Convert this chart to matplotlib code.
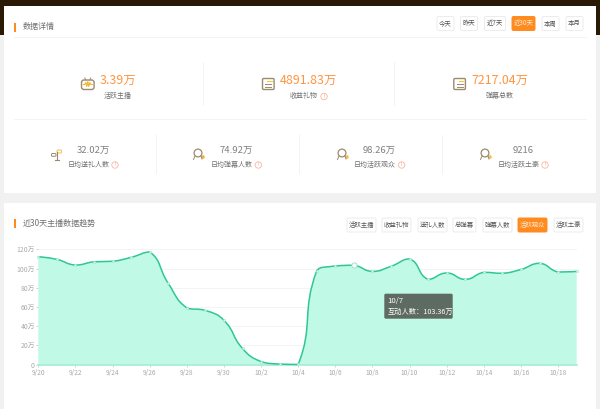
import matplotlib
matplotlib.use("Agg")
import matplotlib.pyplot as plt
import numpy as np
from matplotlib.patches import Rectangle, FancyBboxPatch, Circle, PathPatch
from matplotlib.path import Path

plt.rcParams['font.family'] = ['Noto Sans CJK SC', 'DejaVu Sans']

# chart data
dates = ["9/20", "9/21", "9/22", "9/23", "9/24", "9/25", "9/26", "9/27", "9/28", "9/29",
         "9/30", "10/1", "10/2", "10/3", "10/4", "10/5", "10/6", "10/7", "10/8", "10/9",
         "10/10", "10/11", "10/12", "10/13", "10/14", "10/15", "10/16", "10/17", "10/18", "10/19"]
values = [112.3, 109.5, 103.6, 107.0, 107.5, 111.6, 117.2, 84.5, 59.0, 56.3,
          46.0, 16.7, 3.0, 0.4, 0.1, 97.7, 102.6, 103.36, 97.0, 102.3,
          110.0, 88.7, 95.3, 88.7, 96.0, 95.0, 99.0, 105.4, 96.3, 97.0]
y_ticks = [0, 20, 40, 60, 80, 100, 120]
y_labels = ["0", "20万", "40万", "60万", "80万", "100万", "120万"]

range_buttons = ["今天", "昨天", "近7天", "近30天", "本周", "本月"]
metric_buttons = ["活跃主播", "收益礼物", "送礼人数", "总弹幕", "弹幕人数", "活跃观众", "活跃土豪"]
top_values = ["3.39万", "4891.83万", "7217.04万"]
top_labels = ["活跃主播", "收益礼物", "弹幕总数"]
low_values = ["32.02万", "74.92万", "98.26万", "9216"]
low_labels = ["日均送礼人数", "日均弹幕人数", "日均活跃观众", "日均活跃土豪"]

ORANGE = "#ff8b1f"
VALUE = "#ff9542"
GREEN = "#2fc796"
FILL = "#c0f9e6"
GREY = "#707070"
ICON = "#9a8a70"

fig = plt.figure(figsize=(6, 4.09), dpi=100, facecolor="#f1f1f1")

# page layer in pixel coordinates
bg = fig.add_axes([0, 0, 1, 1])
bg.set_xlim(0, 600)
bg.set_ylim(409, 0)
bg.axis('off')

bg.add_patch(Rectangle((0, 0), 600, 6, color="#2a1905", lw=0))
bg.add_patch(Rectangle((0, 0), 4, 35, color="#2a1905", lw=0))
bg.add_patch(Rectangle((596, 0), 4, 35, color="#2a1905", lw=0))
bg.add_patch(Rectangle((4, 6), 592, 187, color="white", lw=0))
bg.add_patch(Rectangle((4, 203), 592, 206, color="white", lw=0))


def button(x, y, w, h, label, active=False):
    bg.add_patch(FancyBboxPatch((x + 1, y + 1), w - 2, h - 2, boxstyle="round,pad=0,rounding_size=1.5",
                                fc=ORANGE if active else "white", ec=ORANGE if active else "#ececec", lw=0.7))
    bg.text(x + w / 2, y + h / 2, label, ha="center", va="center", fontsize=4.6,
            color="#ffe9d4" if active else "#555555")


def header(y, label):
    bg.add_patch(Rectangle((13.7, y - 4.5), 2, 9, color=ORANGE, lw=0))
    bg.text(23, y, label, ha="left", va="center", fontsize=5.8, color="#707070")


def hint(x, y):
    bg.add_patch(Circle((x, y), 3.2, fc="white", ec="#f9b5a0", lw=0.6))
    bg.text(x, y, "!", ha="center", va="center", fontsize=3.8, color="#f08a6c")


def doc_icon(x, y):
    bg.add_patch(FancyBboxPatch((x - 5.8, y - 5.5), 11.6, 11, boxstyle="round,pad=0,rounding_size=1.2",
                                fc="white", ec=ICON, lw=1))
    bg.plot([x - 1, x + 3.5], [y - 2.8, y - 2.8], color="#f5c242", lw=0.8)
    bg.plot([x - 3, x + 3], [y, y], color=ICON, lw=0.7)
    bg.plot([x - 3, x + 3], [y + 2.6, y + 2.6], color=ICON, lw=0.7)


def live_icon(x, y):
    bg.add_patch(FancyBboxPatch((x - 6.3, y - 4), 12.6, 9.5, boxstyle="round,pad=0,rounding_size=2.5",
                                fc="white", ec=ICON, lw=1))
    bg.plot([x - 4.5, x - 3, x - 2, x - 1, x, x + 1, x + 2, x + 3, x + 4.5],
            [y + 0.5, y + 0.5, y - 1.5, y + 2.5, y - 2.5, y + 2.5, y - 1.5, y + 0.5, y + 0.5], color="#f0b52e", lw=0.8)
    bg.plot([x - 3, x - 2], [y - 6, y - 4], color=ICON, lw=0.7)
    bg.plot([x + 3, x + 2], [y - 6, y - 4], color=ICON, lw=0.7)


def plant_icon(x, y):
    bg.plot([x, x], [y - 3, y + 5], color=ICON, lw=0.8)
    bg.plot([x - 2, x + 2], [y + 5.3, y + 5.3], color=ICON, lw=0.8)
    bg.add_patch(FancyBboxPatch((x - 5, y - 1.5), 4.5, 2.8, boxstyle="round,pad=0,rounding_size=1", fc="white", ec=ICON, lw=0.7))
    bg.add_patch(FancyBboxPatch((x + 0.5, y - 5), 4.5, 3, boxstyle="round,pad=0,rounding_size=1", fc="white", ec="#f5c242", lw=0.7))


def badge_icon(x, y, dot="#f5c242"):
    bg.add_patch(Circle((x, y - 1), 3.9, fc="white", ec=ICON, lw=0.9))
    bg.plot([x - 3, x - 4.5], [y + 2, y + 5.5], color=ICON, lw=0.7)
    bg.plot([x + 3, x + 4], [y + 2, y + 5], color=ICON, lw=0.7)
    bg.add_patch(Circle((x + 5, y + 3), 1.8, fc=dot, ec="none"))


# top card
header(27, "数据详情")
bg.plot([13.5, 586], [37.4, 37.4], color="#f4f4f4", lw=0.7)
range_x = [436, 459.5, 483.5, 511, 541, 565]
range_w = [19, 19, 23, 25, 19, 19]
for x, w, name in zip(range_x, range_w, range_buttons):
    button(x, 15.5, w, 16, name, active=name == "近30天")

top_value_x = [118, 308.7, 500]
top_label_x = [118, 304, 500]
for i in range(3):
    bg.text(top_value_x[i], 80, top_values[i], ha="center", va="center", fontsize=8.9, color=VALUE)
    bg.text(top_label_x[i], 96.3, top_labels[i], ha="center", va="center", fontsize=5.0, color=GREY)
live_icon(87.8, 84)
doc_icon(268.3, 84)
doc_icon(459.6, 84)
hint(324, 96.5)
bg.plot([203.4, 203.4], [62, 105], color="#f3f3f3", lw=0.7)
bg.plot([394.4, 394.4], [62, 105], color="#f3f3f3", lw=0.7)
bg.plot([13.5, 586], [119.4, 119.4], color="#f4f4f4", lw=0.7)

low_value_x = [93.3, 236, 379.5, 523]
low_label_x = [88.8, 232, 375, 518.5]
low_hint_x = [115, 258.3, 401.7, 545]
for i in range(4):
    bg.text(low_value_x[i], 150.7, low_values[i], ha="center", va="center", fontsize=6.8, color="#808080")
    bg.text(low_label_x[i], 165, low_labels[i], ha="center", va="center", fontsize=5.0, color=GREY)
    hint(low_hint_x[i], 165)
plant_icon(56.5, 155)
badge_icon(198, 154, dot="#f5b62e")
badge_icon(342, 154)
badge_icon(485, 154)
for x in [156.4, 299.4, 442.4]:
    bg.plot([x, x], [135, 173], color="#f3f3f3", lw=0.7)

# bottom card
header(223.5, "近30天主播数据趋势")
metric_x = [346, 381, 417, 452, 482, 517, 553]
metric_w = [31, 31, 31, 25, 31, 31, 31]
for x, w, name in zip(metric_x, metric_w, metric_buttons):
    button(x, 217, w, 16, name, active=name == "活跃观众")

# chart axes, placed so the ticks line up with the card pixels
x0, x1 = 38.3, 576.7
y0, y1 = 364.5, 249.3
ax = fig.add_axes([x0 / 600, 1 - y0 / 409, (x1 - x0) / 600, (y0 - y1) / 409])
ax.patch.set_alpha(0)
xs = np.arange(len(values))
ys = np.array(values)
ax.set_xlim(0, len(values) - 1)
ax.set_ylim(0, 120)

# bezier through the points, same recipe as an echarts smooth line (done in pixel space)
sx = (x1 - x0) / (len(values) - 1)
sy = (y0 - y1) / 120
px = np.column_stack([xs * sx, ys * sy])
smooth = 0.5
after = [px[0]]
before = [px[0]]
for i in range(1, len(px) - 1):
    v = px[i + 1] - px[i - 1]
    l0 = np.hypot(*(px[i] - px[i - 1]))
    l1 = np.hypot(*(px[i + 1] - px[i]))
    r = l1 / (l0 + l1)
    c_next = px[i] + v * smooth * r
    c_prev = px[i] - v * smooth * (1 - r)
    c_next = np.clip(c_next, np.minimum(px[i], px[i + 1]), np.maximum(px[i], px[i + 1]))
    c_prev = np.clip(c_prev, np.minimum(px[i], px[i - 1]), np.maximum(px[i], px[i - 1]))
    after.append(c_next)
    before.append(c_prev)
before.append(px[-1])
after.append(px[-1])

verts = [tuple(px[0] / (sx, sy))]
codes = [Path.MOVETO]
for i in range(len(px) - 1):
    verts += [tuple(after[i] / (sx, sy)), tuple(before[i + 1] / (sx, sy)), tuple(px[i + 1] / (sx, sy))]
    codes += [Path.CURVE4] * 3

area = Path(verts + [(xs[-1], 0), (xs[0], 0), (xs[0], ys[0])], codes + [Path.LINETO] * 3)
ax.add_patch(PathPatch(area, fc=FILL, ec="none", zorder=2))
ax.add_patch(PathPatch(Path(verts, codes), fc="none", ec=GREEN, lw=1.1, zorder=3, clip_on=False))
ax.scatter(xs, ys, s=3, color="#d8f7ec", edgecolors="#8fdfc3", linewidths=0.3, zorder=4, clip_on=False)
ax.scatter([17], [values[17]], s=14, color="white", edgecolors="#9fe3cb", linewidths=0.7, zorder=5)

ax.set_yticks(y_ticks)
ax.set_yticklabels(y_labels)
ax.set_xticks(xs[::2])
ax.set_xticklabels(dates[::2])
ax.tick_params(axis='y', length=1.5, width=0.6, color="#9fe3cb", labelsize=4.9, labelcolor="#aaaaaa", pad=1)
ax.tick_params(axis='x', length=1.5, width=0.6, color="#9fe3cb", labelsize=4.8, labelcolor="#aaaaaa", pad=1.5)
ax.grid(axis='y', color="#f4f4f4", lw=0.7, zorder=1)
ax.set_axisbelow(True)
for s in ['top', 'right']:
    ax.spines[s].set_visible(False)
ax.spines['left'].set_visible(False)
ax.spines['bottom'].set_color("#a3ecd3")
ax.spines['bottom'].set_linewidth(1.2)

# tooltip
tip = FancyBboxPatch((384.3, 293.7), 68.4, 25, boxstyle="round,pad=0,rounding_size=1.5", fc="#5e6b62", ec="none", zorder=10)
tip.set_transform(bg.transData)
fig.add_artist(tip)
fig.text(387.3 / 600, 1 - 301.5 / 409, "10/7", fontsize=5.6, color="white", va="center", zorder=11)
fig.text(387.3 / 600, 1 - 311.5 / 409, "互动人数：103.36万", fontsize=5.2, color="white", va="center", zorder=11)

fig.savefig("out.png", dpi=100, facecolor=fig.get_facecolor())
